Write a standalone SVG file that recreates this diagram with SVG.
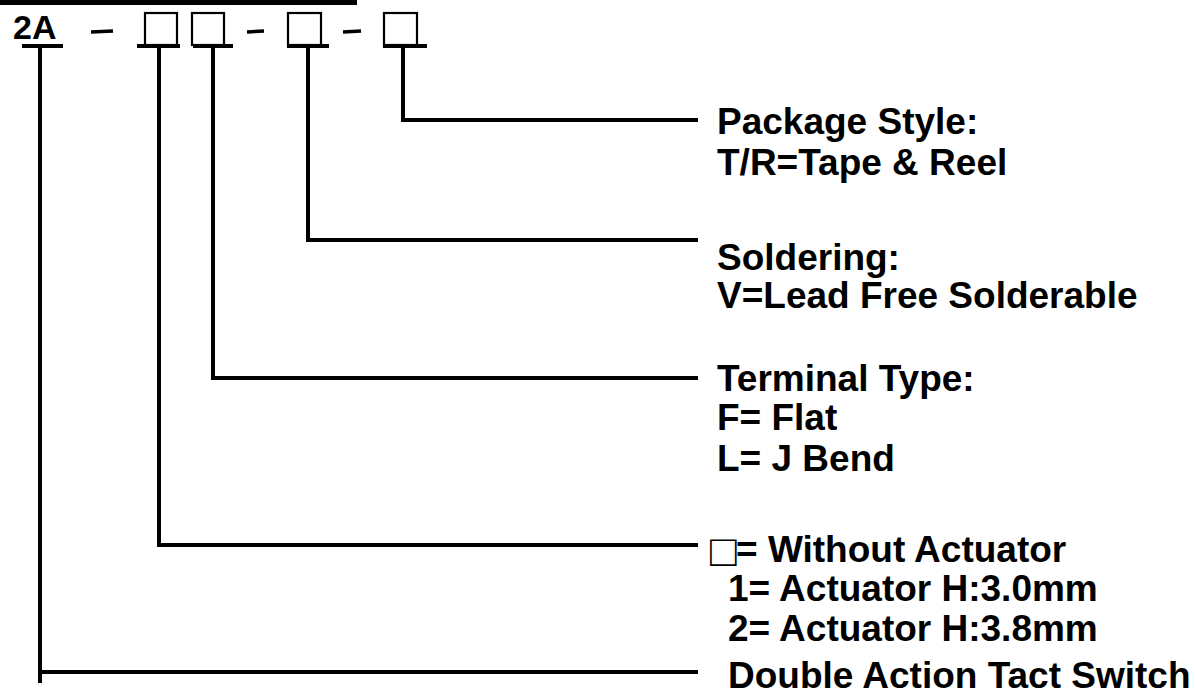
<svg xmlns="http://www.w3.org/2000/svg" width="1195" height="694" viewBox="0 0 1195 694">
<style>
.t{font-family:"Liberation Sans",Arial,sans-serif;font-weight:bold;font-size:37px;fill:#000}
.sq{font-weight:normal;font-size:44px}
.c{stroke:#000;stroke-width:4;fill:none}
.u{stroke:#000;stroke-width:4;fill:none}
.b{stroke:#000;stroke-width:2.2;fill:#fff}
.d{stroke:#000;stroke-width:3.5}
</style>
<rect x="0" y="0" width="357" height="5" fill="#000"/>
<g id="partnumber">
<text class="t" x="13" y="39" style="font-size:34px">2A</text>
<line class="u" x1="22" y1="46" x2="63" y2="46"/>
<line class="d" x1="91" y1="32" x2="113" y2="31"/>
<line class="d" x1="247" y1="32" x2="264" y2="31"/>
<line class="d" x1="343" y1="32" x2="361" y2="31"/>
<g id="box1"><rect class="b" x="145" y="13" width="32" height="32"/><line class="u" x1="137" y1="46" x2="180" y2="46"/></g>
<g id="box2"><rect class="b" x="192" y="13" width="32" height="32"/><line class="u" x1="193" y1="46" x2="233" y2="46"/></g>
<g id="box3"><rect class="b" x="288" y="13" width="33" height="32"/><line class="u" x1="287" y1="46" x2="329" y2="46"/></g>
<g id="box4"><rect class="b" x="384" y="13" width="33" height="32"/><line class="u" x1="383" y1="46" x2="427" y2="46"/></g>
</g>
<g id="connectors">
<path class="c" d="M40 47 V683 M40 672 H698"/>
<path class="c" d="M159 47 V545 H698"/>
<path class="c" d="M213 47 V378 H698"/>
<path class="c" d="M308 47 V240 H698"/>
<path class="c" d="M403 47 V120 H698"/>
</g>
<g id="package">
<text class="t" x="717" y="134">Package Style:</text>
<text class="t" x="717" y="175">T/R=Tape &amp; Reel</text>
</g>
<g id="soldering">
<text class="t" x="717" y="270">Soldering:</text>
<text class="t" x="717" y="308">V=Lead Free Solderable</text>
</g>
<g id="terminal">
<text class="t" x="717" y="391">Terminal Type:</text>
<text class="t" x="717" y="430">F= Flat</text>
<text class="t" x="717" y="471">L= J Bend</text>
</g>
<g id="actuator">
<text class="t" x="710" y="566"><tspan class="sq">□</tspan><tspan x="736" y="562">= Without Actuator</tspan></text>
<text class="t" x="728" y="601">1= Actuator H:3.0mm</text>
<text class="t" x="728" y="641">2= Actuator H:3.8mm</text>
</g>
<g id="type">
<text class="t" x="728" y="688">Double Action Tact Switch</text>
</g>
</svg>
